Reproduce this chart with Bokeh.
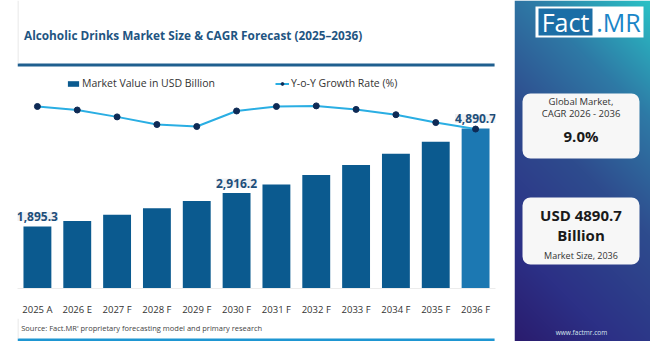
import numpy as np
from bokeh.plotting import figure
from bokeh.models import ColumnDataSource, Range1d, Legend, LegendItem, LabelSet, BoxAnnotation, Label
from bokeh.layouts import row, column
from bokeh.embed import file_html
from bokeh.resources import INLINE
from bokeh.core.properties import value

# ---------------- data ----------------
years = ["2025 A", "2026 E", "2027 F", "2028 F", "2029 F", "2030 F",
         "2031 F", "2032 F", "2033 F", "2034 F", "2035 F", "2036 F"]
market_value = [1895.3, 2066.0, 2252.0, 2455.0, 2676.0, 2916.2,
                3179.0, 3465.0, 3777.0, 4117.0, 4487.0, 4890.7]
growth_rate = [9.42, 9.24, 8.89, 8.50, 8.40, 9.19, 9.42, 9.45, 9.27, 9.00, 8.60, 8.27]
labelled = [0, 5, 11]
title_text = "Alcoholic Drinks Market Size & CAGR Forecast (2025\u20132036)"
source_text = "Source: Fact.MR' proprietary forecasting model and primary research"
cagr_text = "9.0%"
size_text = "USD 4890.7"

FONT = "Open Sans"
LW = 514
RW = 136
H = 341

def deco(width, height):
    f = figure(width=width, height=height, x_range=Range1d(0, width), y_range=Range1d(0, height),
               output_backend="svg", toolbar_location=None, min_border=0,
               x_axis_location=None, y_axis_location=None)
    f.grid.visible = False
    f.outline_line_color = None
    f.background_fill_color = "white"
    f.border_fill_color = "white"
    return f

# ---------------- top band ----------------
TOP_H = 72
top = deco(LW, TOP_H)
top.text(x=[7], y=[TOP_H - 34], text=[title_text], text_font=value(FONT), text_font_style="bold",
         text_font_size="11.8px", text_color="#1F5582", text_baseline="middle", text_align="left")
top.quad(left=[0], right=[513], bottom=[TOP_H - 66], top=[TOP_H - 63], fill_color="#1F5F8F", line_color=None)
top.quad(left=[0], right=[1], bottom=[TOP_H - 63], top=[TOP_H], fill_color="#DDDDDD", line_color=None)

# ---------------- main chart ----------------
MAIN_H = 246
colors = ["#0B5A8F"] * (len(years) - 1) + ["#1C78B2"]
src = ColumnDataSource(dict(x=years, top=market_value, g=growth_rate, c=colors))
p = figure(width=LW, height=MAIN_H, x_range=years, y_range=Range1d(0, 6600),
           output_backend="svg", toolbar_location=None, y_axis_location=None,
           min_border_left=17, min_border_right=19, min_border_top=0, min_border_bottom=26)
p.extra_y_ranges = {"g": Range1d(0.15, 11.15)}
p.grid.visible = False
p.outline_line_color = None
p.background_fill_color = "white"
p.border_fill_color = "white"

bars = p.vbar(x="x", top="top", width=0.7, source=src, fill_color="c", line_color=None)
ln = p.line(x="x", y="g", source=src, y_range_name="g", line_color="#2AAEE3", line_width=2)
sc = p.scatter(x="x", y="g", source=src, y_range_name="g", size=6, fill_color="#0E2A55", line_color="#0E2A55")

lsrc = ColumnDataSource(dict(x=[years[i] for i in labelled], y=[market_value[i] for i in labelled],
                             t=[f"{market_value[i]:,.1f}" for i in labelled]))
labels = LabelSet(x="x", y="y", text="t", source=lsrc, y_offset=10, text_align="center",
                  text_baseline="middle", text_font=value(FONT), text_font_style="bold",
                  text_font_size="12px", text_color="#1D4E7A",
                  background_fill_color="#F1F2F4")
p.add_layout(labels)

legend = Legend(items=[LegendItem(label="Market Value in USD Billion", renderers=[bars]),
                       LegendItem(label="Y-o-Y Growth Rate (%)", renderers=[ln, sc])],
                orientation="horizontal", location=(49, 198), padding=0, spacing=60,
                border_line_color=None, background_fill_alpha=0,
                label_text_font=FONT, label_text_font_size="10.5px", label_text_color="#333333",
                glyph_width=14, glyph_height=7, label_standoff=2)
p.add_layout(legend, "center")

ax = p.xaxis[0]
ax.axis_line_color = "#ECECEC"
ax.major_tick_line_color = None
ax.minor_tick_line_color = None
ax.major_label_text_font = FONT
ax.major_label_text_font_size = "9.5px"
ax.major_label_text_color = "#333333"
ax.major_label_standoff = 8

# ---------------- footer ----------------
FOOT_H = H - TOP_H - MAIN_H
foot = deco(LW, FOOT_H)
foot.text(x=[4], y=[FOOT_H - 9.7], text=[source_text], text_font=value(FONT), text_font_size="7.5px",
          text_color="#444444", text_baseline="middle", text_align="left")
foot.quad(left=[0], right=[513], bottom=[0], top=[3], fill_color="#1E96D2", line_color=None)
foot.quad(left=[0], right=[1], bottom=[3], top=[FOOT_H], fill_color="#DDDDDD", line_color=None)

# ---------------- right panel ----------------
rp = deco(RW, H)
hh, ww = H, RW
yy, xx = np.mgrid[0:hh, 0:ww]
# row 0 is the bottom of the panel; t=1 bottom-left (teal), t=0 top-right (indigo)
t = 0.72 * (1 - yy / (hh - 1)) + 0.28 * (1 - xx / (ww - 1))
t = 1 - t
stops = np.array([0.0, 0.2, 0.5, 0.75, 1.0])
cols = np.array([[0x2A, 0x1C, 0x6E], [0x2C, 0x30, 0x86], [0x2E, 0x4C, 0x8E],
                 [0x2E, 0x7A, 0xA6], [0x2A, 0xC2, 0xC6]], dtype=float)
rgb = np.stack([np.interp(t, stops, cols[:, k]) for k in range(3)], axis=-1).astype(np.uint32)
img = (255 << 24) | (rgb[..., 2] << 16) | (rgb[..., 1] << 8) | rgb[..., 0]
rp.image_rgba(image=[img.astype(np.uint32)], x=0, y=0, dw=RW, dh=H)

def Y(yp):
    return H - yp

# logo
rp.quad(left=[21], right=[129], bottom=[Y(37)], top=[Y(6)], fill_color="white", line_color=None)
rp.quad(left=[24], right=[78], bottom=[Y(35)], top=[Y(8)], fill_color="#1B6EA6", line_color=None)
rp.text(x=[51], y=[Y(21.5)], text=["Fact"], text_font=value(FONT), text_font_size="25px",
        text_color="white", text_align="center", text_baseline="middle")
rp.text(x=[104], y=[Y(21.5)], text=[".MR"], text_font=value(FONT), text_font_size="25px",
        text_color="#1A86C8", text_align="center", text_baseline="middle")
rp.text(x=[67], y=[Y(332)], text=["www.factmr.com"], text_font=value(FONT), text_font_size="6.5px",
        text_color="#D8E6F0", text_align="center", text_baseline="middle")

# cards
rp.add_layout(BoxAnnotation(left=8, right=125, bottom=Y(158), top=Y(93), fill_color="#F7F7F7",
                            fill_alpha=1, line_color=None, border_radius=8))
rp.add_layout(BoxAnnotation(left=8, right=125, bottom=Y(264), top=Y(197), fill_color="#F7F7F7",
                            fill_alpha=1, line_color=None, border_radius=8))
cx = 66.5

def lab(txt, yp, size, bold=False, color="#333333"):
    rp.add_layout(Label(x=cx, y=Y(yp), text=txt, text_font=FONT, text_font_size=size,
                        text_font_style="bold" if bold else "normal", text_color=color,
                        text_align="center", text_baseline="middle"))

lab("Global Market,", 100.5, "9.5px")
lab("CAGR 2026 - 2036", 113, "9.5px")
lab(cagr_text, 135, "15px", True, "#1A1A1A")
lab(size_text, 214.5, "15px", True, "#1A1A1A")
lab("Billion", 234.5, "15px", True, "#1A1A1A")
lab("Market Size, 2036", 255, "9px")

layout = row(column(top, p, foot, spacing=0), rp, spacing=0)
open("out.html", "w").write(file_html(layout, INLINE))
